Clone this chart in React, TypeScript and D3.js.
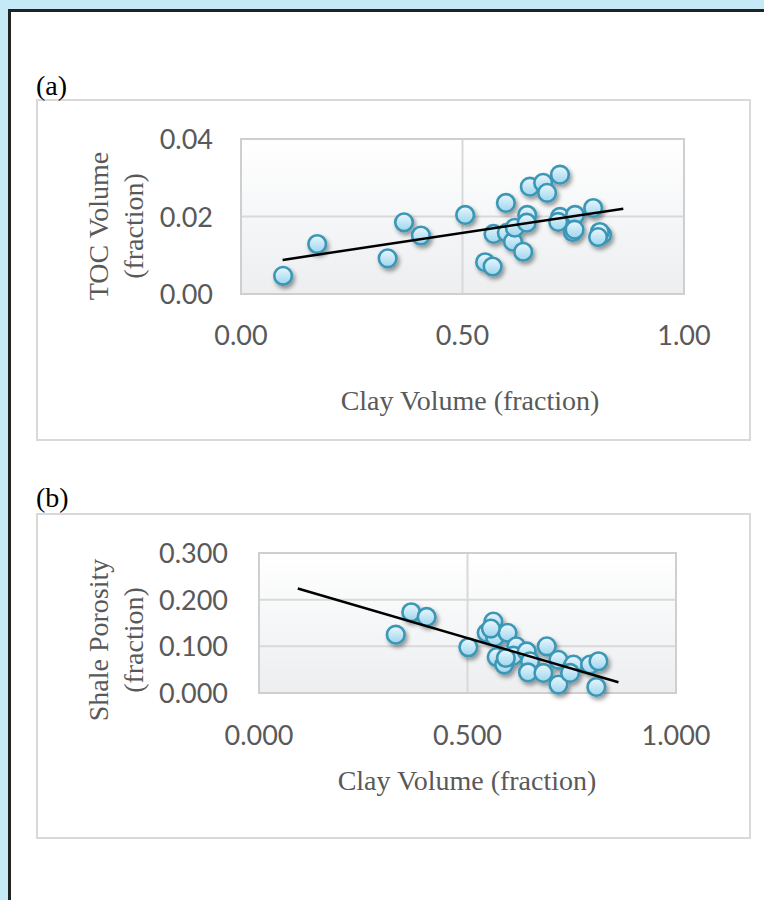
import React from "react";
import * as d3 from "d3";

// ---------- data ----------
const clayA = [0.095, 0.172, 0.331, 0.368, 0.406, 0.506, 0.551, 0.568, 0.570, 0.598, 0.600, 0.614, 0.618, 0.637, 0.646, 0.645, 0.652, 0.682, 0.691, 0.720, 0.720, 0.716, 0.754, 0.749, 0.753, 0.795, 0.815, 0.810, 0.806];
const tocA = [0.0047, 0.0129, 0.0092, 0.0185, 0.0151, 0.0204, 0.0082, 0.0071, 0.0155, 0.0235, 0.0158, 0.0135, 0.0171, 0.0109, 0.0204, 0.0184, 0.0277, 0.0287, 0.0261, 0.0308, 0.0199, 0.0186, 0.0204, 0.0160, 0.0166, 0.0222, 0.0153, 0.0160, 0.0147];
const trendAX = [0.094, 0.863];
const trendAY = [0.0088, 0.022];
const xTicksA = [0, 0.5, 1];
const yTicksA = [0, 0.02, 0.04];

const clayB = [0.328, 0.365, 0.402, 0.502, 0.562, 0.546, 0.566, 0.596, 0.570, 0.588, 0.617, 0.610, 0.642, 0.650, 0.645, 0.682, 0.690, 0.718, 0.718, 0.750, 0.754, 0.746, 0.794, 0.814, 0.809, 0.592, 0.556];
const porB = [0.125, 0.173, 0.163, 0.098, 0.153, 0.129, 0.120, 0.129, 0.077, 0.061, 0.100, 0.080, 0.089, 0.068, 0.044, 0.043, 0.100, 0.071, 0.018, 0.054, 0.061, 0.043, 0.061, 0.068, 0.013, 0.075, 0.138];
const trendBX = [0.093, 0.862];
const trendBY = [0.224, 0.023];
const xTicksB = [0, 0.5, 1];
const yTicksB = [0, 0.1, 0.2, 0.3];

const TICK_FONT = "Lato, 'Open Sans', sans-serif";
const SERIF = "'Liberation Serif', 'DejaVu Serif', serif";
const GRAY = "#595959";

type PanelProps = {
  id: string;
  label: string;
  box: [number, number, number, number];
  plot: [number, number, number, number];
  xs: number[];
  ys: number[];
  tx: number[];
  ty: number[];
  xTicks: number[];
  yTicks: number[];
  yMax: number;
  fmt: string;
  yTitle: string[];
  yTitleCenter: number;
  xTitleBase: number;
  xTitleCenter: number;
  xTickBase: number;
  yLabelRight: number;
  labelBase: number;
};

function Panel(p: PanelProps) {
  const [px0, py0, px1, py1] = p.plot;
  const x = d3.scaleLinear().domain([0, 1]).range([px0, px1]);
  const y = d3.scaleLinear().domain([0, p.yMax]).range([py1, py0]);
  const f = d3.format(p.fmt);
  const line = d3.line<number>().x((_, i) => x(p.tx[i])).y((d) => y(d));
  const [bx0, by0, bx1, by1] = p.box;
  return (
    <g>
      <rect x={bx0} y={by0} width={bx1 - bx0} height={by1 - by0} fill="#fff" stroke="#d9d9d9" strokeWidth={2} />
      <text x={36} y={p.labelBase} fontFamily={SERIF} fontSize={28} fill="#000">{p.label}</text>
      <rect x={px0} y={py0} width={px1 - px0} height={py1 - py0} fill={`url(#bg-${p.id})`} />
      {p.yTicks.map((t) => (
        <line key={"gy" + t} x1={px0} x2={px1} y1={y(t)} y2={y(t)} stroke="#d9d9d9" strokeWidth={2} />
      ))}
      {p.xTicks.map((t) => (
        <line key={"gx" + t} x1={x(t)} x2={x(t)} y1={py0} y2={py1} stroke="#d9d9d9" strokeWidth={2} />
      ))}
      <rect x={px0} y={py0} width={px1 - px0} height={py1 - py0} fill="none" stroke="#cfcfcf" strokeWidth={2} />
      {p.yTicks.map((t) => (
        <text key={"ly" + t} x={p.yLabelRight} y={y(t) + 10} textAnchor="end" fontFamily={TICK_FONT} fontSize={27} fill={GRAY}>{f(t)}</text>
      ))}
      {p.xTicks.map((t) => (
        <text key={"lx" + t} x={x(t)} y={p.xTickBase} textAnchor="middle" fontFamily={TICK_FONT} fontSize={27} fill={GRAY}>{f(t)}</text>
      ))}
      <text x={p.xTitleCenter} y={p.xTitleBase} textAnchor="middle" fontFamily={SERIF} fontSize={28} fill={GRAY}>Clay Volume (fraction)</text>
      {p.yTitle.map((s, i) => (
        <text key={s} transform={`translate(${108 + i * 35},${p.yTitleCenter}) rotate(-90)`} textAnchor="middle" fontFamily={SERIF} fontSize={28} fill={GRAY}>{s}</text>
      ))}
      <g filter="url(#shadow)">
        {p.xs.map((v, i) => (
          <circle key={i} cx={x(v)} cy={y(p.ys[i])} r={8.8} fill="url(#marker)" stroke="#3b97b5" strokeWidth={2.6} />
        ))}
      </g>
      <path d={line(p.ty) || ""} stroke="#000" strokeWidth={2.5} fill="none" />
    </g>
  );
}

export default function App() {
  return (
    <div style={{ position: "fixed", left: 0, top: 0 }}>
      <svg width={764} height={900} xmlns="http://www.w3.org/2000/svg">
        <defs>
          <linearGradient id="bg-a" x1="0" y1="0" x2="0" y2="1">
            <stop offset="0" stopColor="#ffffff" />
            <stop offset="1" stopColor="#eceef0" />
          </linearGradient>
          <linearGradient id="bg-b" x1="0" y1="0" x2="0" y2="1">
            <stop offset="0" stopColor="#ffffff" />
            <stop offset="1" stopColor="#eceef0" />
          </linearGradient>
          <linearGradient id="marker" x1="0" y1="0" x2="0" y2="1">
            <stop offset="0" stopColor="#eaf7fd" />
            <stop offset="1" stopColor="#9dd5ee" />
          </linearGradient>
          <filter id="shadow" x="-20%" y="-20%" width="140%" height="140%">
            <feDropShadow dx={2} dy={3} stdDeviation={2} floodColor="#000" floodOpacity={0.4} />
          </filter>
        </defs>
        <rect x={0} y={0} width={764} height={900} fill="#c6e9f8" />
        <rect x={9.5} y={10.5} width={800} height={950} fill="#fff" stroke="#222" strokeWidth={3} />
        <Panel
          id="a"
          label="(a)"
          box={[37, 100, 750, 440]}
          plot={[241, 139, 684, 294]}
          xs={clayA}
          ys={tocA}
          tx={trendAX}
          ty={trendAY}
          xTicks={xTicksA}
          yTicks={yTicksA}
          yMax={0.04}
          fmt=".2f"
          yTitle={["TOC Volume", "(fraction)"]}
          yTitleCenter={226}
          xTitleBase={410}
          xTitleCenter={470}
          xTickBase={345}
          yLabelRight={213}
          labelBase={95}
        />
        <Panel
          id="b"
          label="(b)"
          box={[37, 514, 750, 838]}
          plot={[259, 553, 676, 693]}
          xs={clayB}
          ys={porB}
          tx={trendBX}
          ty={trendBY}
          xTicks={xTicksB}
          yTicks={yTicksB}
          yMax={0.3}
          fmt=".3f"
          yTitle={["Shale Porosity", "(fraction)"]}
          yTitleCenter={640}
          xTitleBase={790}
          xTitleCenter={467}
          xTickBase={745}
          yLabelRight={228}
          labelBase={507}
        />
      </svg>
    </div>
  );
}
